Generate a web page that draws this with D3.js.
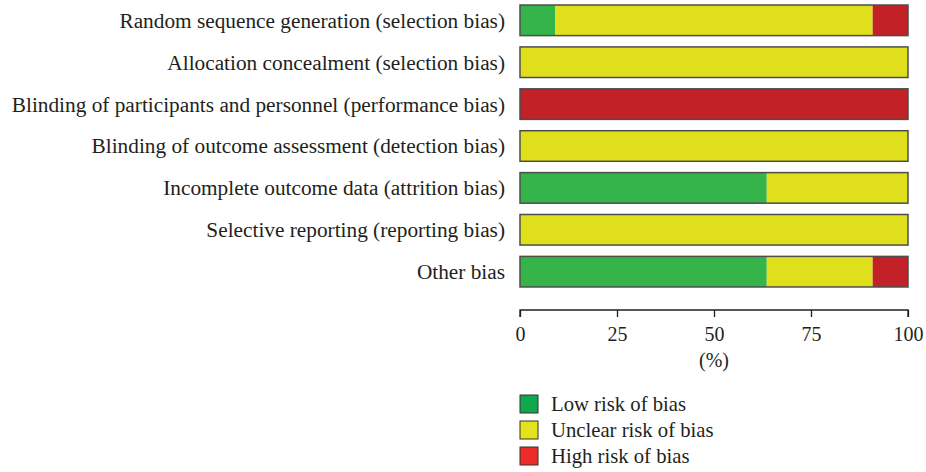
<!DOCTYPE html>
<html><head><meta charset="utf-8">
<script src="https://cdn.jsdelivr.net/npm/d3@7"></script>
<style>body{margin:0;background:#fff}svg{display:block}text{font-family:"Liberation Serif","DejaVu Serif",serif;fill:#231f20}</style>
</head><body><svg id="c" width="926" height="472"></svg>
<script>
const categories = [
  "Random sequence generation (selection bias)",
  "Allocation concealment (selection bias)",
  "Blinding of participants and personnel (performance bias)",
  "Blinding of outcome assessment (detection bias)",
  "Incomplete outcome data (attrition bias)",
  "Selective reporting (reporting bias)",
  "Other bias"
];
const lowRisk     = [9.1, 0, 0, 0, 63.6, 0, 63.6];
const unclearRisk = [81.8, 100, 0, 100, 36.4, 100, 27.3];
const highRisk    = [9.1, 0, 100, 0, 0, 0, 9.1];
const seriesNames = ["Low risk of bias", "Unclear risk of bias", "High risk of bias"];
const xTicks = [0, 25, 50, 75, 100];

const barColors = ["#35b44a", "#e0df1b", "#c22127"];
const legendColors = ["#0fa84c", "#e2e21d", "#ee2b2b"];

const svg = d3.select("#c");
const x = d3.scaleLinear().domain([0, 100]).range([520, 908]);
const y = d3.scaleBand().domain(categories).range([0, 292]).paddingInner(0.27).paddingOuter(0.12);

const rows = categories.map((c, i) => ({c, v: [lowRisk[i], unclearRisk[i], highRisk[i]]}));
const g = svg.append("g");
rows.forEach(r => {
  let acc = 0;
  r.v.forEach((val, k) => {
    if (val > 0) {
      g.append("rect").attr("x", x(acc)).attr("y", y(r.c)).attr("width", x(acc + val) - x(acc))
        .attr("height", y.bandwidth()).attr("fill", barColors[k]);
    }
    acc += val;
  });
  g.append("rect").attr("x", x(0)).attr("y", y(r.c)).attr("width", x(100) - x(0))
    .attr("height", y.bandwidth()).attr("fill", "none").attr("stroke", "#4d4d4d").attr("stroke-width", 1.5);
  g.append("text").attr("x", 505).attr("y", y(r.c) + y.bandwidth() / 2).attr("dy", "0.35em")
    .attr("text-anchor", "end").attr("font-size", 21.3).text(r.c);
});

const ax = svg.append("g").attr("transform", "translate(0,310)")
  .call(d3.axisBottom(x).tickValues(xTicks).tickSize(7).tickPadding(10).tickFormat(d3.format("d")));
ax.select(".domain").attr("stroke", "#231f20").attr("stroke-width", 1.3).attr("d", `M${x(0)},7V0H${x(100)}V7`);
ax.selectAll(".tick line").attr("stroke", "#231f20").attr("stroke-width", 1.3);
ax.selectAll(".tick text").attr("font-size", 20).attr("font-family", '"Liberation Serif",serif').attr("fill", "#231f20");
svg.append("text").attr("x", x(50)).attr("y", 367).attr("text-anchor", "middle").attr("font-size", 20).text("(%)");

const lg = svg.append("g");
seriesNames.forEach((n, i) => {
  lg.append("rect").attr("x", 520).attr("y", 395 + i * 26).attr("width", 18).attr("height", 18)
    .attr("fill", legendColors[i]).attr("stroke", "#333").attr("stroke-width", 1);
  lg.append("text").attr("x", 551).attr("y", 404 + i * 26).attr("dy", "0.35em").attr("font-size", 20.7).text(n);
});
</script></body></html>
